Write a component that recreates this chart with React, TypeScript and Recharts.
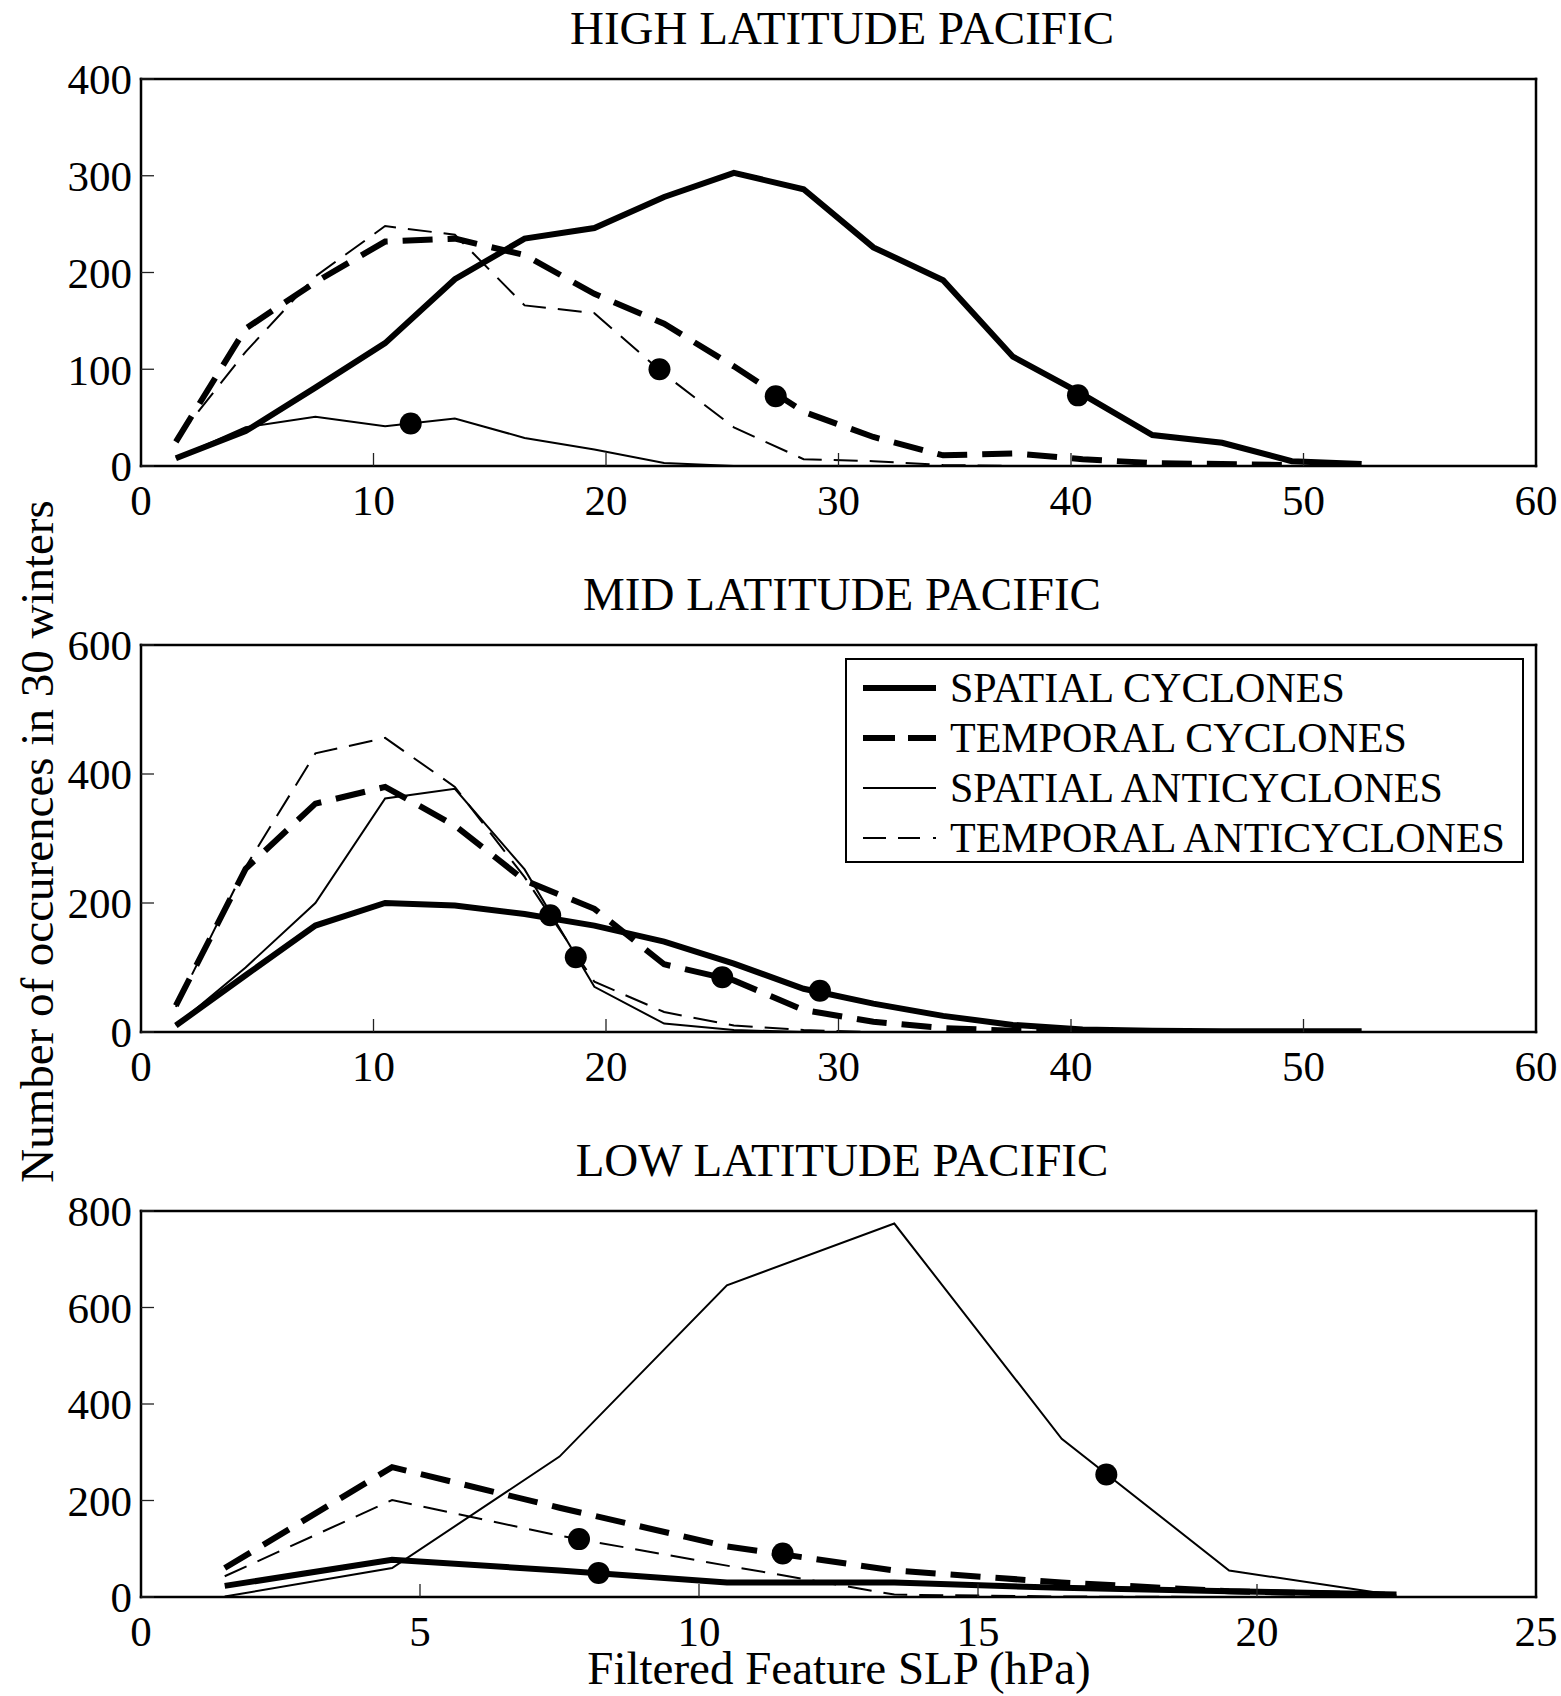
import React from "react";
import { ComposedChart, Line, Scatter, XAxis, YAxis, Legend } from "recharts";

const FONT = '"Liberation Serif", "Times New Roman", serif';

// bin centres (hPa)
const binsWide = [1.5, 4.5, 7.5, 10.5, 13.5, 16.5, 19.5, 22.5, 25.5, 28.5, 31.5, 34.5, 37.5, 40.5, 43.5, 46.5, 49.5, 52.5];
const binsLow = [1.5, 4.5, 7.5, 10.5, 13.5, 16.5, 19.5, 22.5];

// HIGH LATITUDE PACIFIC
const highSpatialCyc = [8, 36, 81, 127, 193, 235, 246, 278, 303, 286, 226, 192, 113, 74, 32, 24, 5, 2];
const highTemporalCyc = [25, 142, 190, 232, 235, 218, 178, 147, 103, 56, 30, 11, 13, 7, 3, 2, 1, null];
const highSpatialAnti = [8, 40, 51, 41, 49, 29, 17, 3, 0, 0, 0, 0, null, null, null, null, null, null];
const highTemporalAnti = [27, 118, 196, 248, 239, 166, 158, 95, 40, 7, 5, 1, 0, null, null, null, null, null];
const highMeans = [
  { x: 11.6, y: 44 },
  { x: 22.3, y: 100 },
  { x: 27.3, y: 72 },
  { x: 40.3, y: 73 },
];

// MID LATITUDE PACIFIC
const midSpatialCyc = [10, 88, 165, 200, 196, 183, 165, 140, 106, 67, 44, 25, 11, 4, 2, 1, 1, 1];
const midTemporalCyc = [41, 253, 354, 380, 320, 235, 191, 105, 80, 34, 16, 6, 2, 1, 0, null, null, null];
const midSpatialAnti = [10, 100, 200, 362, 377, 252, 70, 13, 3, 0, null, null, null, null, null, null, null, null];
const midTemporalAnti = [39, 256, 432, 456, 380, 240, 78, 31, 10, 3, 0, null, null, null, null, null, null, null];
const midMeans = [
  { x: 17.6, y: 181 },
  { x: 18.7, y: 116 },
  { x: 25.0, y: 85 },
  { x: 29.2, y: 64 },
];

// LOW LATITUDE PACIFIC
const lowSpatialCyc = [23, 77, 55, 30, 30, 19, 12, 5];
const lowTemporalCyc = [60, 269, 185, 105, 55, 30, 12, 4];
const lowSpatialAnti = [1, 60, 291, 646, 774, 328, 55, 3];
const lowTemporalAnti = [43, 201, 127, 65, 5, 1, 0, 0];
const lowMeans = [
  { x: 8.2, y: 50 },
  { x: 7.85, y: 120 },
  { x: 11.5, y: 90 },
  { x: 17.3, y: 254 },
];

const wideTicks = [0, 10, 20, 30, 40, 50, 60];
const lowTicks = [0, 5, 10, 15, 20, 25];

const SERIES = [
  { key: "spatialCyc", name: "SPATIAL CYCLONES", width: 6, dash: undefined, legendDash: undefined },
  { key: "temporalCyc", name: "TEMPORAL CYCLONES", width: 6, dash: "30 15", legendDash: "32 13" },
  { key: "spatialAnti", name: "SPATIAL ANTICYCLONES", width: 2, dash: undefined, legendDash: undefined },
  { key: "temporalAnti", name: "TEMPORAL ANTICYCLONES", width: 2, dash: "24 12", legendDash: "23 12 22 13 3" },
];

function buildRows(bins: number[], a: any[], b: any[], c: any[], d: any[]) {
  return bins.map((x, i) => ({
    x,
    spatialCyc: a[i] ?? null,
    temporalCyc: b[i] ?? null,
    spatialAnti: c[i] ?? null,
    temporalAnti: d[i] ?? null,
  }));
}

function LegendBox() {
  return (
    <div
      style={{
        position: "relative",
        width: 679,
        height: 205,
        boxSizing: "border-box",
        border: "2px solid #000",
        background: "#fff",
        fontFamily: FONT,
      }}
    >
      {SERIES.map((s, i) => (
        <div
          key={s.key}
          style={{
            position: "absolute",
            left: 0,
            top: 3 + i * 50,
            height: 50,
            width: "100%",
          }}
        >
          <svg width={80} height={50} style={{ position: "absolute", left: 14, top: 0 }}>
            <line
              x1={2}
              x2={75}
              y1={25}
              y2={25}
              stroke="#000"
              strokeWidth={s.width}
              strokeDasharray={s.legendDash}
            />
          </svg>
          <div
            style={{
              position: "absolute",
              left: 103,
              top: 0,
              fontSize: 42,
              lineHeight: "50px",
              whiteSpace: "nowrap",
              color: "#000",
            }}
          >
            {s.name}
          </div>
        </div>
      ))}
    </div>
  );
}

const axisLine = { stroke: "#000", strokeWidth: 2.5, strokeLinecap: "square" as const };
const tickLine = { stroke: "#222", strokeWidth: 1.3 };
const tickStyle = { fill: "#000", fontSize: 43, fontFamily: FONT };

function Panel(props: {
  title: string;
  rows: any[];
  means: { x: number; y: number }[];
  xMax: number;
  xTicks: number[];
  yMax: number;
  yTicks: number[];
  plotTop: number;
  plotBottom: number;
  legend?: boolean;
}) {
  const { title, rows, means, xMax, xTicks, yMax, yTicks, plotTop, plotBottom, legend } = props;
  const top = plotTop - 79;
  const height = plotBottom - plotTop + 79 + 70;
  return (
    <div style={{ position: "absolute", left: 0, top, width: 1561, height }}>
      <div
        style={{
          position: "absolute",
          left: 342,
          width: 1000,
          top: 5,
          textAlign: "center",
          fontFamily: FONT,
          fontSize: 47,
          lineHeight: "47px",
          color: "#000",
          whiteSpace: "nowrap",
        }}
      >
        {title}
      </div>
      <ComposedChart
        width={1561}
        height={height}
        data={rows}
        margin={{ top: 78, right: 24, bottom: 10, left: 41 }}
      >
        <XAxis
          xAxisId="b"
          dataKey="x"
          type="number"
          domain={[0, xMax]}
          ticks={xTicks}
          interval={0}
          height={60}
          tickSize={-13}
          tickMargin={31}
          axisLine={axisLine}
          tickLine={tickLine}
          tick={tickStyle}
          allowDataOverflow
        />
        <XAxis
          xAxisId="t"
          orientation="top"
          type="number"
          domain={[0, xMax]}
          ticks={xTicks}
          interval={0}
          height={1}
          tickSize={-13}
          axisLine={axisLine}
          tickLine={tickLine}
          tick={false}
          allowDataOverflow
        />
        <YAxis
          yAxisId="l"
          type="number"
          domain={[0, yMax]}
          ticks={yTicks}
          interval={0}
          width={100}
          tickSize={-13}
          tickMargin={22}
          axisLine={axisLine}
          tickLine={tickLine}
          tick={tickStyle}
          allowDataOverflow
        />
        <YAxis
          yAxisId="r"
          orientation="right"
          type="number"
          domain={[0, yMax]}
          ticks={yTicks}
          interval={0}
          width={1}
          tickSize={-13}
          axisLine={axisLine}
          tickLine={tickLine}
          tick={false}
          allowDataOverflow
        />
        {SERIES.map((s) => (
          <Line
            key={s.key}
            xAxisId="b"
            yAxisId="l"
            type="linear"
            dataKey={s.key}
            name={s.name}
            stroke="#000"
            strokeWidth={s.width}
            strokeDasharray={s.dash}
            strokeLinejoin="miter"
            dot={false}
            activeDot={false}
            isAnimationActive={false}
          />
        ))}
        <Scatter
          xAxisId="b"
          yAxisId="l"
          data={means}
          dataKey="y"
          isAnimationActive={false}
          shape={(p: any) => <circle cx={p.cx} cy={p.cy} r={11} fill="#000" />}
        />
        {legend && (
          <Legend
            layout="horizontal"
            verticalAlign="middle"
            align="center"
            wrapperStyle={{ left: 845, top: 92, width: 679 }}
            content={() => <LegendBox />}
          />
        )}
      </ComposedChart>
    </div>
  );
}

export default function App() {
  const highRows = buildRows(binsWide, highSpatialCyc, highTemporalCyc, highSpatialAnti, highTemporalAnti);
  const midRows = buildRows(binsWide, midSpatialCyc, midTemporalCyc, midSpatialAnti, midTemporalAnti);
  const lowRows = buildRows(binsLow, lowSpatialCyc, lowTemporalCyc, lowSpatialAnti, lowTemporalAnti);

  return (
    <div
      style={{
        position: "absolute",
        left: 0,
        top: 0,
        width: 1561,
        height: 1696,
        background: "#fff",
        overflow: "hidden",
      }}
    >
      <Panel
        title="HIGH LATITUDE PACIFIC"
        rows={highRows}
        means={highMeans}
        xMax={60}
        xTicks={wideTicks}
        yMax={400}
        yTicks={[0, 100, 200, 300, 400]}
        plotTop={79}
        plotBottom={466}
      />
      <Panel
        title="MID LATITUDE PACIFIC"
        rows={midRows}
        means={midMeans}
        xMax={60}
        xTicks={wideTicks}
        yMax={600}
        yTicks={[0, 200, 400, 600]}
        plotTop={645}
        plotBottom={1032}
        legend
      />
      <Panel
        title="LOW LATITUDE PACIFIC"
        rows={lowRows}
        means={lowMeans}
        xMax={25}
        xTicks={lowTicks}
        yMax={800}
        yTicks={[0, 200, 400, 600, 800]}
        plotTop={1211}
        plotBottom={1597}
      />
      <div
        style={{
          position: "absolute",
          left: 37 - 450,
          top: 841 - 23.5,
          width: 900,
          height: 47,
          lineHeight: "47px",
          textAlign: "center",
          fontFamily: FONT,
          fontSize: 47,
          color: "#000",
          transform: "rotate(-90deg)",
          whiteSpace: "nowrap",
        }}
      >
        Number of occurences in 30 winters
      </div>
      <div
        style={{
          position: "absolute",
          left: 839 - 500,
          top: 1653,
          width: 1000,
          height: 30,
          lineHeight: "30px",
          textAlign: "center",
          fontFamily: FONT,
          fontSize: 47,
          color: "#000",
          whiteSpace: "nowrap",
        }}
      >
        Filtered Feature SLP (hPa)
      </div>
    </div>
  );
}
